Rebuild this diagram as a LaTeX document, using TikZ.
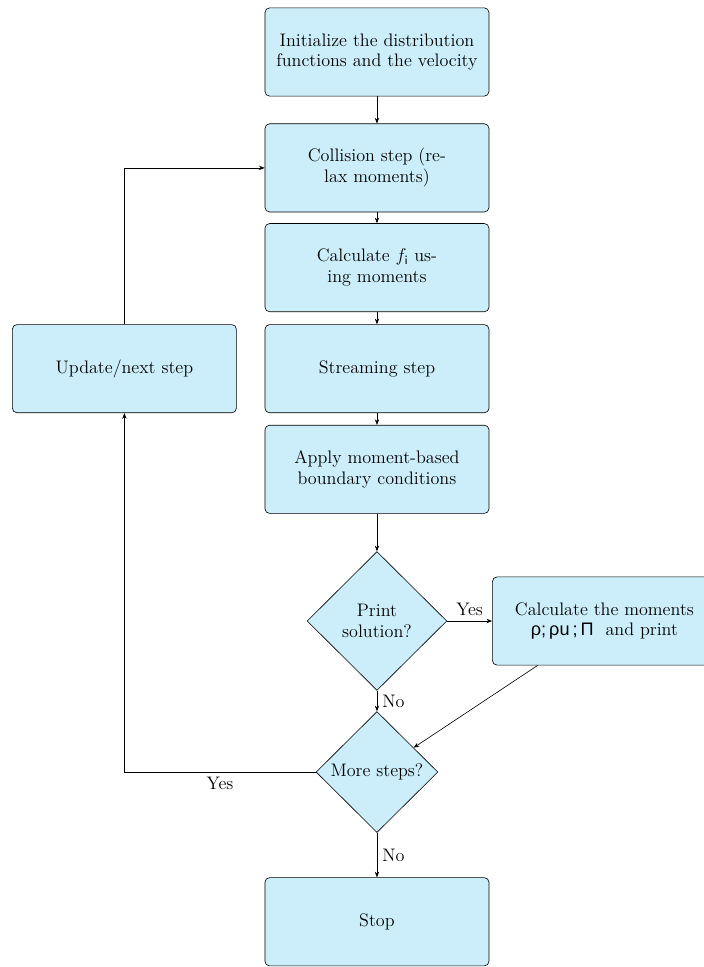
\documentclass[tikz,border=0pt]{standalone}
\usepackage{amsmath}
\usepackage{fontspec}
\newfontfamily\greekfont{Liberation Sans}
\usepackage{tikz}
\usetikzlibrary{shapes.geometric, arrows.meta, positioning}
\definecolor{stepfill}{RGB}{204,238,250}

\begin{document}
\begin{tikzpicture}[
every node/.style={font=\fontsize{11.8}{13.6}\selectfont},
process/.style={rectangle, rounded corners=3pt, draw=black, fill=stepfill, minimum width=5.13cm, minimum height=2.02cm, align=center, inner sep=2pt},
decision/.style={diamond, draw=black, fill=stepfill, align=center, inner sep=0pt, aspect=1},
arrow/.style={-{Stealth[length=1.3mm, width=1mm]}}
]
\useasboundingbox (-8.633,1.191) rectangle (7.488,-20.954);
% Main column
\node[process] (init) at (0,0) {Initialize the distribution\\functions and the velocity};
\node[process, below=0.62cm of init] (collide) {Collision step (re-\\lax moments)};
\node[process, below=0.25cm of collide] (calcfi) {Calculate $f_{\mathsf{i}}$ us-\\ing moments};
\node[process, below=0.28cm of calcfi] (stream) {Streaming step};
\node[process, below=0.27cm of stream] (bc) {Apply moment-based\\boundary conditions};
\node[decision, minimum width=3.2cm, minimum height=3.18cm, below=0.86cm of bc] (print) {Print\\solution?};
\node[decision, minimum width=2.79cm, minimum height=2.77cm, below=0.47cm of print] (more) {More steps?};
\node[process, below=1.02cm of more] (stop) {Stop};
% Side boxes
\node[process, left=0.64cm of stream] (update) {Update/next step};
\node[process, right=1.03cm of print] (moments) {Calculate the moments\\{\greekfont ρ;\,ρu\,;\,Π}~~and print};
% Arrows
\draw[arrow] (init) -- (collide);
\draw[arrow] (collide) -- (calcfi);
\draw[arrow] (calcfi) -- (stream);
\draw[arrow] (stream) -- (bc);
\draw[arrow] (bc) -- (print);
\draw[arrow] (print) -- node[above] {Yes} (moments);
\draw[arrow] (print) -- node[right] {No} (more);
\draw[arrow] (moments) -- (more);
\draw[arrow] (more) -- node[right] {No} (stop);
% Loop back
\draw[arrow] (more) -| node[below, pos=0.25] {Yes} (update);
\draw[arrow] (update) |- (collide);
\end{tikzpicture}
\end{document}
